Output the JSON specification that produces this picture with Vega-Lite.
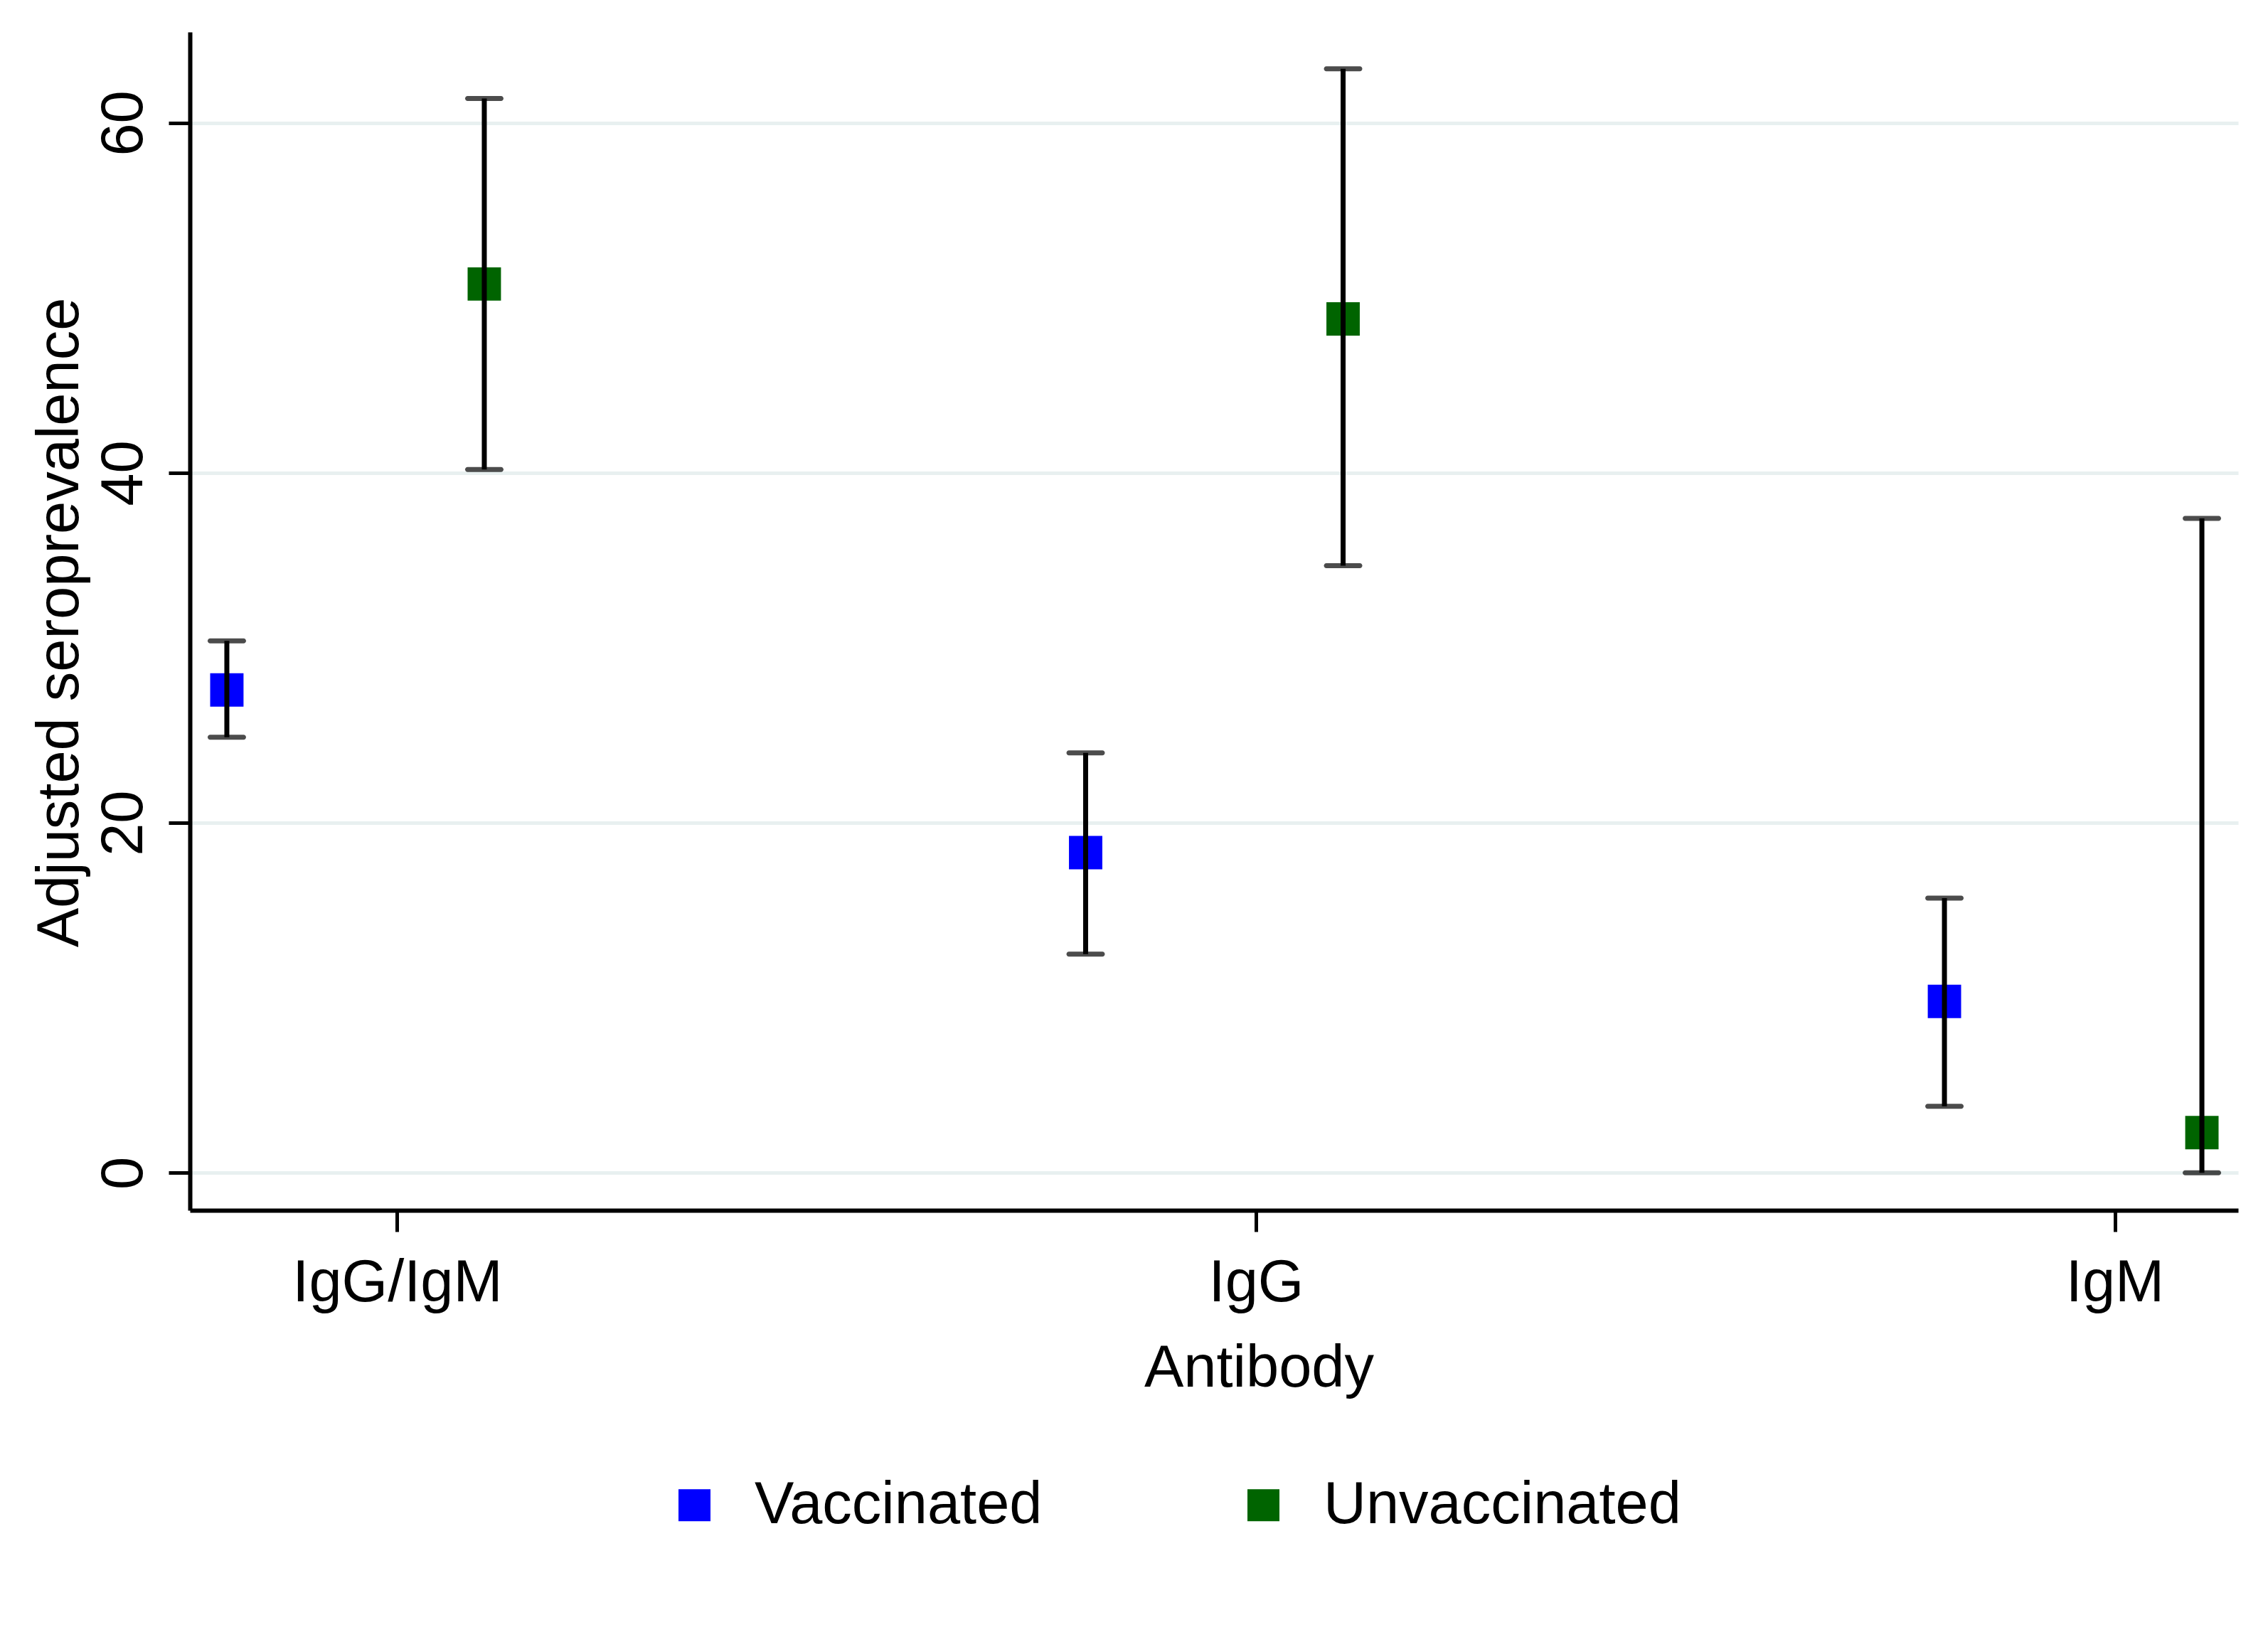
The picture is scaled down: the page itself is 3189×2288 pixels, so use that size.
{
  "$schema": "https://vega.github.io/schema/vega-lite/v6.json",
  "width": 2880,
  "height": 1657,
  "autosize": {"type": "none"},
  "padding": {"left": 267, "top": 45, "right": 42, "bottom": 586},
  "background": "white",
  "config": {
    "view": {"stroke": null},
    "font": "Liberation Sans",
    "axis": {
      "labelColor": "black",
      "titleColor": "black",
      "titleFontWeight": "normal",
      "labelFontSize": 83,
      "titleFontSize": 83,
      "labelLimit": 0,
      "domainColor": "black",
      "domainWidth": 6,
      "tickColor": "black",
      "tickWidth": 5,
      "tickSize": 30
    },
    "legend": {
      "labelFontSize": 83,
      "labelColor": "black",
      "labelLimit": 0
    }
  },
  "data": {
    "values": [
      {"antibody": "IgG/IgM", "group": "Vaccinated", "est": 27.6, "lo": 24.9, "hi": 30.4},
      {"antibody": "IgG/IgM", "group": "Unvaccinated", "est": 50.8, "lo": 40.2, "hi": 61.4},
      {"antibody": "IgG", "group": "Vaccinated", "est": 18.3, "lo": 12.5, "hi": 24.0},
      {"antibody": "IgG", "group": "Unvaccinated", "est": 48.8, "lo": 34.7, "hi": 63.1},
      {"antibody": "IgM", "group": "Vaccinated", "est": 9.8, "lo": 3.8, "hi": 15.7},
      {"antibody": "IgM", "group": "Unvaccinated", "est": 2.3, "lo": 0.0, "hi": 37.4}
    ]
  },
  "encoding": {
    "x": {
      "field": "antibody",
      "type": "nominal",
      "sort": ["IgG/IgM", "IgG", "IgM"],
      "scale": {"type": "band", "paddingInner": 1, "paddingOuter": 0.1925, "align": 0.628},
      "axis": {
        "title": "Antibody",
        "labelAngle": 0,
        "labelPadding": 97,
        "labelBaseline": "alphabetic",
        "titleBaseline": "alphabetic",
        "titleX": 1503,
        "titleY": 247,
        "grid": false
      }
    },
    "xOffset": {
      "field": "group",
      "type": "nominal",
      "scale": {"type": "point", "domain": ["Vaccinated", "Unvaccinated"], "range": [-240, 122], "padding": 0}
    }
  },
  "layer": [
    {
      "mark": {"type": "square", "size": 2200, "opacity": 1, "filled": true},
      "encoding": {
        "y": {
          "field": "est",
          "type": "quantitative",
          "scale": {"domain": [-2.14, 65.2], "nice": false, "zero": false},
          "axis": {
            "title": "Adjusted seroprevalence",
            "values": [0, 20, 40, 60],
            "labelAngle": -90,
            "labelAlign": "center",
            "labelBaseline": "alphabetic",
            "labelPadding": 38,
            "grid": true,
            "gridColor": "#e8f0f0",
            "gridWidth": 5,
            "titleBaseline": "alphabetic",
            "titleAlign": "center",
            "titleAngle": -90,
            "titleX": -158,
            "titleY": 830
          }
        },
        "color": {
          "field": "group",
          "type": "nominal",
          "scale": {"domain": ["Vaccinated", "Unvaccinated"], "range": ["#0000ff", "#006400"]},
          "legend": {
            "title": null,
            "orient": "none",
            "direction": "horizontal",
            "legendX": 668,
            "legendY": 2030,
            "padding": 0,
            "symbolType": "square",
            "symbolSize": 2025,
            "symbolStrokeWidth": 0,
            "symbolOpacity": 1,
            "labelOffset": 43,
            "columnPadding": 269
          }
        }
      }
    },
    {
      "mark": {"type": "rule", "color": "black", "strokeWidth": 7},
      "encoding": {
        "y": {"field": "lo", "type": "quantitative"},
        "y2": {"field": "hi"}
      }
    },
    {
      "mark": {"type": "tick", "color": "black", "thickness": 7, "size": 54, "orient": "horizontal", "cornerRadius": 3.5},
      "encoding": {
        "y": {"field": "lo", "type": "quantitative"}
      }
    },
    {
      "mark": {"type": "tick", "color": "black", "thickness": 7, "size": 54, "orient": "horizontal", "cornerRadius": 3.5},
      "encoding": {
        "y": {"field": "hi", "type": "quantitative"}
      }
    }
  ]
}
